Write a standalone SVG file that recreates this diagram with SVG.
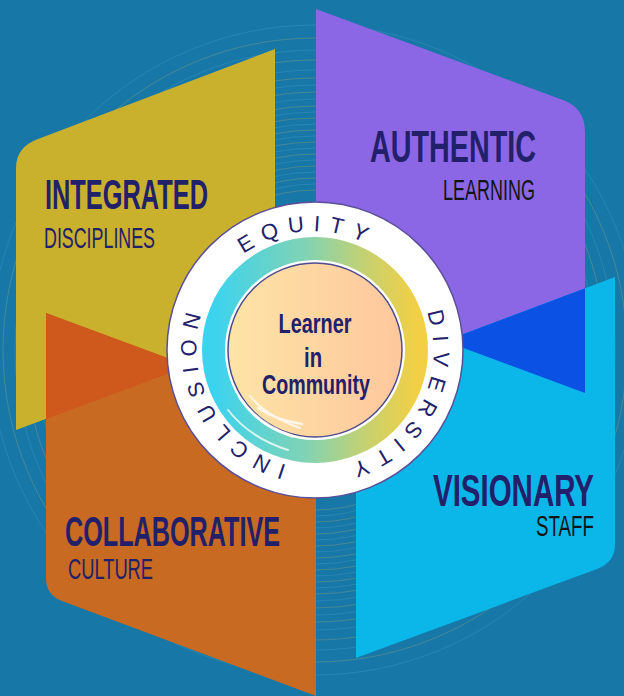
<svg xmlns="http://www.w3.org/2000/svg" width="624" height="696" viewBox="0 0 624 696">
<defs>
<linearGradient id="ringGrad" x1="0" y1="0" x2="1" y2="0">
<stop offset="0" stop-color="#3cd3ef"/>
<stop offset="0.45" stop-color="#80d3b4"/>
<stop offset="0.75" stop-color="#c6d170"/>
<stop offset="1" stop-color="#f2cf45"/>
</linearGradient>
<linearGradient id="peach" x1="0" y1="0" x2="1" y2="0">
<stop offset="0" stop-color="#fde4a6"/>
<stop offset="1" stop-color="#fec79d"/>
</linearGradient>
<path id="ringPath" d="M 404.6 274.8 A 117 117 0 1 1 225.4 425.2 A 117 117 0 1 1 404.6 274.8"/>
<style>
.head{font-family:"Liberation Sans",Arial,sans-serif;font-weight:bold;fill:#23206b;}
.sub{font-family:"Liberation Sans",Arial,sans-serif;font-weight:normal;}
.ring{font-family:"Liberation Sans",Arial,sans-serif;font-size:22px;fill:#22206a;letter-spacing:9px;}
.center{font-family:"Liberation Sans",Arial,sans-serif;font-weight:bold;font-size:28px;fill:#22206a;text-anchor:middle;}
.sw1{fill:none;stroke:#d9c25a;stroke-width:0.8;opacity:0.3;}
.sw2{fill:none;stroke:#5fb3d6;stroke-width:0.8;opacity:0.3;}
</style>
</defs>
<rect x="0" y="0" width="624" height="696" fill="#1777a7"/>
<g id="swirl">
<circle class="sw1" cx="315" cy="350" r="160"/>
<circle class="sw2" cx="315" cy="350" r="166"/>
<circle class="sw1" cx="315" cy="350" r="172"/>
<circle class="sw2" cx="315" cy="350" r="178"/>
<circle class="sw1" cx="315" cy="350" r="184"/>
<circle class="sw2" cx="315" cy="350" r="190"/>
<circle class="sw1" cx="315" cy="350" r="196"/>
<circle class="sw2" cx="315" cy="350" r="202"/>
<circle class="sw1" cx="315" cy="350" r="208"/>
<circle class="sw2" cx="315" cy="350" r="214"/>
<circle class="sw1" cx="315" cy="350" r="220"/>
<circle class="sw2" cx="315" cy="350" r="226"/>
<circle class="sw1" cx="315" cy="350" r="232"/>
<circle class="sw2" cx="315" cy="350" r="238"/>
<circle class="sw1" cx="315" cy="350" r="244"/>
<circle class="sw2" cx="315" cy="350" r="251"/>
<circle class="sw1" cx="315" cy="350" r="258"/>
<circle class="sw2" cx="315" cy="350" r="265"/>
<circle class="sw1" cx="315" cy="350" r="272"/>
<circle class="sw2" cx="315" cy="350" r="280"/>
<circle class="sw1" cx="315" cy="350" r="290"/>
<circle class="sw2" cx="315" cy="350" r="300"/>
<circle class="sw1" cx="315" cy="350" r="312"/>
<circle class="sw2" cx="315" cy="350" r="325"/>
</g>
<g id="integrated">
<path d="M 275 49 L 38 139 Q 16 147 16 168 L 16 430 L 275 334 Z" fill="#c9b02d"/>
</g>
<g id="authentic">
<path d="M 316 9 L 563 100 Q 585 108 585 132 L 585 393 L 316 293.5 Z" fill="#8b66e5"/>
</g>
<g id="collaborative">
<path d="M 46 313 L 316 413 L 316 696 L 62 601 Q 46 595 46 578 Z" fill="#c96a22"/>
<path d="M 46 313 L 189 366 L 46 419 Z" fill="#cf581d"/>
</g>
<g id="visionary">
<path d="M 615 277 L 356 374.6 L 356 658 L 597 569 Q 615 562 615 545 Z" fill="#0ab7e8"/>
<path d="M 444.7 341 L 585 288.3 L 585 393 Z" fill="#0b52e4"/>
</g>
<g id="labels">
<text class="head" x="45" y="209" font-size="43" textLength="163" lengthAdjust="spacingAndGlyphs">INTEGRATED</text>
<text class="sub" x="44" y="248" font-size="29" fill="#23206b" textLength="111" lengthAdjust="spacingAndGlyphs">DISCIPLINES</text>
<text class="head" x="536" y="162" font-size="44" text-anchor="end" textLength="166" lengthAdjust="spacingAndGlyphs">AUTHENTIC</text>
<text class="sub" x="535" y="200" font-size="29" fill="#141414" text-anchor="end" textLength="92" lengthAdjust="spacingAndGlyphs">LEARNING</text>
<text class="head" x="65" y="546" font-size="43" textLength="215" lengthAdjust="spacingAndGlyphs">COLLABORATIVE</text>
<text class="sub" x="68" y="579" font-size="29" fill="#23206b" textLength="85" lengthAdjust="spacingAndGlyphs">CULTURE</text>
<text class="head" x="594" y="506" font-size="44" text-anchor="end" textLength="161" lengthAdjust="spacingAndGlyphs">VISIONARY</text>
<text class="sub" x="594" y="536" font-size="29" fill="#141414" text-anchor="end" textLength="58" lengthAdjust="spacingAndGlyphs">STAFF</text>
</g>
<g id="hub">
<circle cx="315" cy="350" r="148" fill="#ffffff" stroke="#5a4f98" stroke-width="1.5"/>
<circle cx="315" cy="350" r="101.5" fill="none" stroke="url(#ringGrad)" stroke-width="23"/>
<circle cx="315" cy="350" r="89" fill="#ffffff"/>
<circle cx="315" cy="350" r="87" fill="url(#peach)" stroke="#4d4a8e" stroke-width="1.5"/>
<g fill="none" stroke="#ffffff" stroke-linecap="round" opacity="0.75">
<path d="M 240 398 Q 258 425 292 436" stroke-width="3"/>
<path d="M 250 396 Q 266 416 300 428" stroke-width="2"/>
<path d="M 258 408 Q 276 420 302 424" stroke-width="2.5"/>
<path d="M 228 410 Q 250 438 288 450" stroke-width="2"/>
<path d="M 220 422 Q 246 450 284 460" stroke-width="1.5"/>
</g>
<text class="ring"><textPath href="#ringPath" startOffset="142" text-anchor="middle">DIVERSITY</textPath></text>
<text class="ring"><textPath href="#ringPath" startOffset="398" text-anchor="middle">INCLUSION</textPath></text>
<text class="ring"><textPath href="#ringPath" startOffset="633" text-anchor="middle">EQUITY</textPath></text>
<text class="center" x="315" y="333" textLength="73" lengthAdjust="spacingAndGlyphs">Learner</text>
<text class="center" x="313" y="367" textLength="18" lengthAdjust="spacingAndGlyphs">in</text>
<text class="center" x="316" y="394" textLength="108" lengthAdjust="spacingAndGlyphs">Community</text>
</g>
</svg>
